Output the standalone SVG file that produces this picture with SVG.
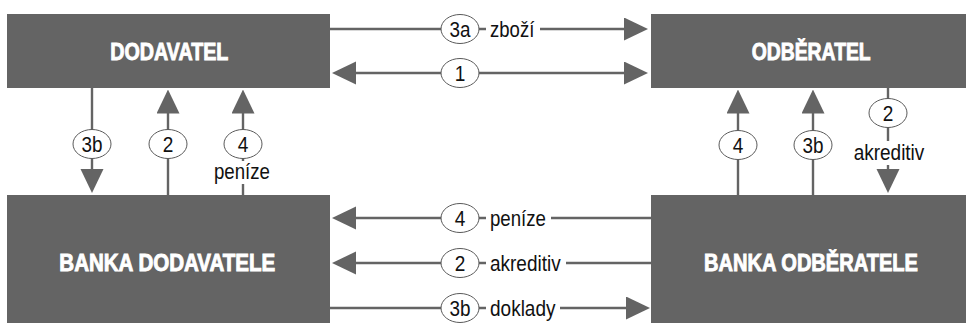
<svg xmlns="http://www.w3.org/2000/svg" width="966" height="323" viewBox="0 0 966 323">
<defs>
<style>
.box{fill:#646464}
.title{fill:#fff;stroke:#fff;stroke-width:0.9;font-family:"Liberation Sans",Arial,sans-serif;font-weight:bold;font-size:23.5px;text-anchor:middle}
.conn{stroke:#646464;stroke-width:2.4;fill:none}
.badge{fill:#fff;stroke:#5a5a5a;stroke-width:1}
.num{fill:#111;font-family:"Liberation Sans",Arial,sans-serif;font-size:22.5px;text-anchor:middle}
.lbl{fill:#111;font-family:"Liberation Sans",Arial,sans-serif;font-size:22.5px}
.bg{fill:#fff}
</style>
<marker id="ah" markerUnits="userSpaceOnUse" markerWidth="24" markerHeight="24" refX="4" refY="11.5" orient="auto-start-reverse">
<path d="M0,0 L24,11.5 L0,23 Z" fill="#646464"/>
</marker>
</defs>
<rect width="966" height="323" fill="#fff"/>

<g id="connectors">
<path class="conn" d="M330,29 H628" marker-end="url(#ah)"/>
<path class="conn" d="M352,73 H628" marker-start="url(#ah)" marker-end="url(#ah)"/>
<path class="conn" d="M651,218 H352" marker-end="url(#ah)"/>
<path class="conn" d="M651,263 H352" marker-end="url(#ah)"/>
<path class="conn" d="M330,308 H630" marker-end="url(#ah)"/>
<path class="conn" d="M92,88 V173" marker-end="url(#ah)"/>
<path class="conn" d="M168,195 V109.5" marker-end="url(#ah)"/>
<path class="conn" d="M243,195 V109.5" marker-end="url(#ah)"/>
<path class="conn" d="M738,195 V109.5" marker-end="url(#ah)"/>
<path class="conn" d="M813,195 V109.5" marker-end="url(#ah)"/>
<path class="conn" d="M888,88 V173" marker-end="url(#ah)"/>
</g>

<g id="labels">
<g id="l-3a">
<ellipse class="badge" cx="460" cy="29" rx="19" ry="14.5"/>
<text class="num" x="460" y="37" textLength="21" lengthAdjust="spacingAndGlyphs">3a</text>
<rect class="bg" x="486" y="16" width="54" height="27"/>
<text class="lbl" x="490" y="37" textLength="44.3" lengthAdjust="spacingAndGlyphs">zboží</text>
</g>
<g id="l-1">
<ellipse class="badge" cx="460" cy="73" rx="19" ry="14.5"/>
<text class="num" x="460" y="81" textLength="10.6" lengthAdjust="spacingAndGlyphs">1</text>
</g>
<g id="l-4b">
<ellipse class="badge" cx="460" cy="218" rx="19" ry="14.5"/>
<text class="num" x="460" y="226" textLength="10.6" lengthAdjust="spacingAndGlyphs">4</text>
<rect class="bg" x="486" y="205" width="65" height="27"/>
<text class="lbl" x="490" y="226" textLength="56" lengthAdjust="spacingAndGlyphs">peníze</text>
</g>
<g id="l-2b">
<ellipse class="badge" cx="460" cy="263" rx="19" ry="14.5"/>
<text class="num" x="460" y="271" textLength="10.6" lengthAdjust="spacingAndGlyphs">2</text>
<rect class="bg" x="486" y="250" width="80" height="27"/>
<text class="lbl" x="490" y="271" textLength="70.7" lengthAdjust="spacingAndGlyphs">akreditiv</text>
</g>
<g id="l-3bb">
<ellipse class="badge" cx="460" cy="308" rx="19" ry="14.5"/>
<text class="num" x="460" y="316" textLength="21" lengthAdjust="spacingAndGlyphs">3b</text>
<rect class="bg" x="486" y="295" width="74" height="27"/>
<text class="lbl" x="490" y="316" textLength="65.5" lengthAdjust="spacingAndGlyphs">doklady</text>
</g>
<g id="l-3bl">
<ellipse class="badge" cx="92" cy="144" rx="19" ry="14.5"/>
<text class="num" x="92" y="152" textLength="21" lengthAdjust="spacingAndGlyphs">3b</text>
</g>
<g id="l-2l">
<ellipse class="badge" cx="168" cy="144" rx="19" ry="14.5"/>
<text class="num" x="168" y="152" textLength="10.6" lengthAdjust="spacingAndGlyphs">2</text>
</g>
<g id="l-4l">
<ellipse class="badge" cx="243" cy="144" rx="19" ry="14.5"/>
<text class="num" x="243" y="152" textLength="10.6" lengthAdjust="spacingAndGlyphs">4</text>
<rect class="bg" x="211" y="161" width="62" height="23"/>
<text class="num" x="242" y="178.5" textLength="56" lengthAdjust="spacingAndGlyphs">peníze</text>
</g>
<g id="l-4r">
<ellipse class="badge" cx="738" cy="145" rx="19" ry="14.5"/>
<text class="num" x="738" y="153" textLength="10.6" lengthAdjust="spacingAndGlyphs">4</text>
</g>
<g id="l-3br">
<ellipse class="badge" cx="813" cy="145" rx="19" ry="14.5"/>
<text class="num" x="813" y="153" textLength="21" lengthAdjust="spacingAndGlyphs">3b</text>
</g>
<g id="l-2r">
<ellipse class="badge" cx="888" cy="113" rx="19" ry="14.5"/>
<text class="num" x="888" y="121" textLength="10.6" lengthAdjust="spacingAndGlyphs">2</text>
<rect class="bg" x="851" y="141" width="76" height="24"/>
<text class="num" x="889" y="159.5" textLength="70.7" lengthAdjust="spacingAndGlyphs">akreditiv</text>
</g>
</g>

<g id="dodavatel">
<rect class="box" x="7" y="14" width="323" height="74"/>
<text class="title" x="169.3" y="60" textLength="118" lengthAdjust="spacingAndGlyphs">DODAVATEL</text>
</g>
<g id="odberatel">
<rect class="box" x="651" y="14" width="315" height="74"/>
<text class="title" x="811.2" y="60" textLength="119" lengthAdjust="spacingAndGlyphs">ODBĚRATEL</text>
</g>
<g id="banka-dodavatele">
<rect class="box" x="7" y="195" width="323" height="128"/>
<text class="title" x="167.3" y="270.5" textLength="216" lengthAdjust="spacingAndGlyphs">BANKA DODAVATELE</text>
</g>
<g id="banka-odberatele">
<rect class="box" x="651" y="195" width="315" height="128"/>
<text class="title" x="811" y="270.5" textLength="214" lengthAdjust="spacingAndGlyphs">BANKA ODBĚRATELE</text>
</g>
</svg>
